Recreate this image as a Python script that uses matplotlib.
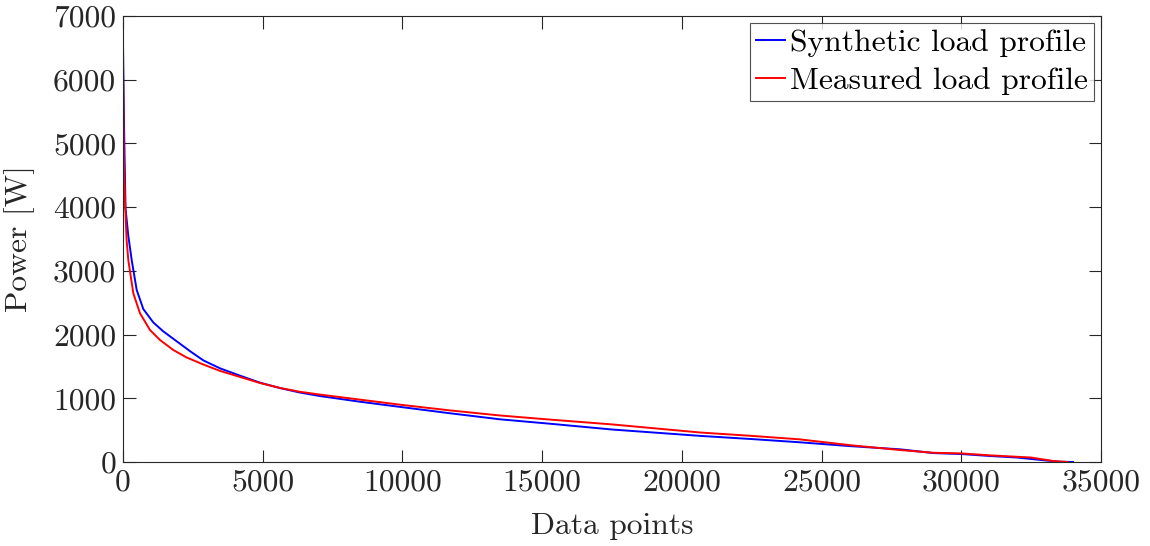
import matplotlib
matplotlib.use("Agg")
import matplotlib.pyplot as plt

# Synthetic load profile (blue)
syn_x = [0, 40, 90, 190, 311, 490, 727, 1085, 1443, 1920, 2398, 2875, 3472, 4187, 4903,
         5619, 6335, 7051, 8500, 10000, 11700, 13493, 15300, 17500, 20651, 22500, 24200,
         26000, 27809, 29000, 30000, 31000, 32000, 33000, 33500, 34000]
syn_y = [6560, 5200, 3980, 3550, 3170, 2700, 2400, 2190, 2050, 1895, 1740, 1595, 1470, 1355, 1245,
         1160, 1090, 1035, 945, 860, 765, 670, 600, 510, 410, 360, 310,
         250, 199, 140, 125, 95, 70, 25, 5, 0]

# Measured load profile (red)
mea_x = [0, 30, 72, 130, 190, 369, 608, 966, 1324, 1800, 2280, 2875, 3472, 4187, 4903,
         5619, 6335, 7051, 8500, 10000, 11700, 13493, 15300, 17500, 20651, 22500, 24200,
         26000, 27809, 29000, 30000, 31000, 32500, 33300, 33800]
mea_y = [6200, 4800, 4100, 3480, 3170, 2648, 2334, 2072, 1915, 1758, 1640, 1530, 1430, 1335, 1240,
         1162, 1102, 1058, 978, 895, 810, 730, 665, 590, 463, 410, 356,
         265, 188, 145, 135, 105, 70, 15, 0]

x_ticks = [0, 5000, 10000, 15000, 20000, 25000, 30000, 35000]
y_ticks = [0, 1000, 2000, 3000, 4000, 5000, 6000, 7000]

plt.rcParams['font.family'] = 'serif'
plt.rcParams['font.serif'] = ['cmr10']
plt.rcParams['mathtext.fontset'] = 'cm'
plt.rcParams['axes.unicode_minus'] = False
plt.rcParams['axes.formatter.use_mathtext'] = True

FS = 22.7
fig = plt.figure(figsize=(11.5, 5.46), dpi=100)
ax = fig.add_axes([123/1150, 1 - 462/546, (1101-123)/1150, (462-16)/546])

ax.plot(syn_x, syn_y, color='#0000ff', lw=1.4, label='Synthetic load profile')
ax.plot(mea_x, mea_y, color='#ff0000', lw=1.4, label='Measured load profile')

ax.set_xlim(0, 35000)
ax.set_ylim(0, 7000)
ax.set_xticks(x_ticks)
ax.set_yticks(y_ticks)
ax.set_xticklabels([str(t) for t in x_ticks])
ax.set_yticklabels([str(t) for t in y_ticks])
ax.tick_params(direction='in', length=9, width=0.8, top=True, right=True,
               labelsize=FS, colors='#262626', pad=5)
for s in ax.spines.values():
    s.set_color('#262626')
    s.set_linewidth(0.8)

ax.set_xlabel('Data points', fontsize=FS, color='#262626', labelpad=12)
ax.set_ylabel('Power [W]', fontsize=FS, color='#262626', labelpad=13)

leg = ax.legend(loc='upper right', fontsize=FS, frameon=True, fancybox=False,
                handlelength=0.92, handletextpad=0.15, borderpad=0.2, labelspacing=0.3,
                borderaxespad=0.22)
leg.get_frame().set_edgecolor('#262626')
leg.get_frame().set_linewidth(0.8)

fig.savefig('out.png', dpi=100)
